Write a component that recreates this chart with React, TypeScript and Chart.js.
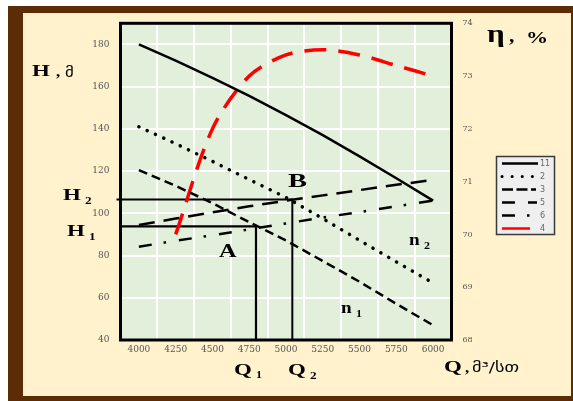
import React, { useEffect, useRef } from "react";
import { Chart, registerables } from "chart.js";

Chart.register(...registerables);

// Flow rate, m³/h
const flowQ = [4000, 4250, 4500, 4750, 5000, 5250, 5500, 5750, 6000];
// Head, m — curve 11 (pump)
const head11 = [180, 172.3, 164.2, 155.6, 146.5, 137, 127, 116.6, 106];
// Head, m — curve 2 (speed n2)
const head2 = [141, 133, 124.6, 116, 107.5, 97.5, 87.2, 77, 67];
// Head, m — curve 3 (speed n1)
const head3 = [120.5, 113, 104.8, 95.8, 87.1, 77.4, 67.6, 57.1, 47];
// Head, m — curve 5 (network through B)
const head5 = [94.5, 97.5, 100.5, 103.3, 106, 108.5, 111, 113.5, 115.8];
// Head, m — curve 6 (network through A)
const head6 = [84.2, 87, 89.6, 92.4, 95.2, 98, 100.6, 103.3, 106];
// Efficiency, % — curve 4
const eff4: (number | null)[] = [null, 70, 72, 73, 73.4, 73.5, 73.4, 73.2, 73.0];

const seriesNames = ["11", "2", "3", "5", "6", "4"];

// Operating points A (Q1, H1) and B (Q2, H2)
const pointA = { q: 4796, h: 93.8 };
const pointB = { q: 5043, h: 106.6 };

const headTicks = [40, 60, 80, 100, 120, 140, 160, 180];
const effTicks = [68, 69, 70, 71, 72, 73, 74];
const qRange = [3875, 6125];
const hRange = [40, 190];
const effRange = [68, 74];

const W = 573;
const H = 401;

type Style = {
  color: string;
  width: number;
  dash: number[];
  cap: CanvasLineCap;
  legendDash: number[];
  legendLen: number;
};

const styles: Style[] = [
  { color: "#000", width: 2.5, dash: [], cap: "butt", legendDash: [], legendLen: 36 },
  { color: "#000", width: 3.5, dash: [0.1, 9], cap: "round", legendDash: [0.1, 10], legendLen: 34 },
  { color: "#000", width: 2.5, dash: [9, 5], cap: "butt", legendDash: [11, 3.5], legendLen: 34 },
  { color: "#000", width: 2.5, dash: [16, 9], cap: "butt", legendDash: [13, 13], legendLen: 35 },
  { color: "#000", width: 2.5, dash: [13, 12, 2.5, 13], cap: "butt", legendDash: [13, 12, 2.5, 13], legendLen: 30 },
  { color: "#ff0000", width: 3.5, dash: [22, 12], cap: "butt", legendDash: [], legendLen: 28 },
];

const seriesValues = [head11, head2, head3, head5, head6, eff4];

const serifBold = (px: number) => `bold ${px}px "Liberation Serif"`;

function put(
  ctx: CanvasRenderingContext2D,
  text: string,
  x: number,
  y: number,
  font: string,
  sx = 1.35,
  color = "#000"
) {
  ctx.save();
  ctx.font = font;
  ctx.textAlign = "left";
  ctx.textBaseline = "alphabetic";
  ctx.fillStyle = color;
  ctx.translate(x, y);
  ctx.scale(sx, 1);
  ctx.fillText(text, 0, 0);
  ctx.restore();
}

const decorPlugin = {
  id: "decor",
  beforeDraw(chart: any) {
    const { ctx, chartArea: a } = chart;
    ctx.save();
    ctx.fillStyle = "#ffffff";
    ctx.fillRect(0, 0, W, H);
    ctx.fillStyle = "#5c2c06";
    ctx.fillRect(8, 6, W - 8, H - 6);
    ctx.fillStyle = "#fff2cc";
    ctx.fillRect(23, 13, 548, 383);
    ctx.fillStyle = "#e2efda";
    ctx.fillRect(a.left, a.top, a.right - a.left, a.bottom - a.top);
    ctx.restore();
  },
  afterDatasetsDraw(chart: any) {
    const { ctx, chartArea: a } = chart;
    ctx.save();
    ctx.strokeStyle = "#000";
    ctx.lineWidth = 3;
    ctx.strokeRect(a.left, a.top, a.right - a.left, a.bottom - a.top);
    ctx.restore();
  },
  afterDraw(chart: any) {
    const ctx: CanvasRenderingContext2D = chart.ctx;

    // axis titles
    put(ctx, "H", 32, 76, serifBold(17));
    put(ctx, ",", 56, 76, serifBold(14), 1.2);
    put(ctx, "მ", 65, 77, '14px "DejaVu Sans"', 1.2);

    put(ctx, "η", 487, 42, serifBold(25), 1.25);
    put(ctx, ",", 509, 42, serifBold(18), 1.2);
    put(ctx, "%", 526, 43, serifBold(17), 1.3);

    put(ctx, "Q", 444, 372, serifBold(17));
    put(ctx, ",", 465, 372, serifBold(14), 1.2);
    put(ctx, "მ³/სთ", 472, 372, '14px "DejaVu Sans"', 1.3);

    // operating point annotations
    put(ctx, "H", 63, 200, serifBold(17));
    put(ctx, "2", 85, 204, serifBold(11), 1.2);
    put(ctx, "H", 67, 236, serifBold(17));
    put(ctx, "1", 89, 240, serifBold(11), 1.2);

    put(ctx, "A", 219, 257, serifBold(18));
    put(ctx, "B", 288, 187, serifBold(19), 1.5);

    put(ctx, "n", 409, 245, serifBold(16), 1.2);
    put(ctx, "2", 424, 249, serifBold(10), 1.2);
    put(ctx, "n", 341, 313, serifBold(16), 1.2);
    put(ctx, "1", 356, 317, serifBold(10), 1.2);

    put(ctx, "Q", 234, 375, serifBold(17));
    put(ctx, "1", 256, 378, serifBold(10), 1.2);
    put(ctx, "Q", 288, 375, serifBold(17));
    put(ctx, "2", 310, 379, serifBold(11), 1.2);

    // legend
    const bx = 496.5;
    const by = 156.5;
    const bw = 58;
    const bh = 78;
    ctx.save();
    ctx.fillStyle = "#efefef";
    ctx.fillRect(bx, by, bw, bh);
    ctx.strokeStyle = "#3a3a3a";
    ctx.lineWidth = 1.5;
    ctx.strokeRect(bx, by, bw, bh);
    seriesNames.forEach((name, i) => {
      const st = styles[i];
      const y = 163.5 + i * 13;
      ctx.save();
      ctx.strokeStyle = st.color;
      ctx.lineWidth = st.cap === "round" ? 3 : 2.5;
      ctx.lineCap = st.cap;
      ctx.setLineDash(st.legendDash);
      ctx.beginPath();
      ctx.moveTo(502, y);
      ctx.lineTo(502 + st.legendLen, y);
      ctx.stroke();
      ctx.restore();
      ctx.fillStyle = "#666";
      ctx.font = '8px "DejaVu Sans"';
      ctx.textBaseline = "middle";
      ctx.textAlign = "left";
      ctx.fillText(name, 540, y);
    });
    ctx.restore();
  },
};

export default function App() {
  const ref = useRef<HTMLCanvasElement | null>(null);

  useEffect(() => {
    if (!ref.current) return;

    const curves = seriesValues.map((vals, i) => {
      const st = styles[i];
      const isEff = i === 5;
      return {
        label: seriesNames[i],
        data: flowQ
          .map((q, k) => ({ x: q, y: vals[k] }))
          .filter((p) => p.y !== null),
        yAxisID: isEff ? "y2" : "y",
        borderColor: st.color,
        backgroundColor: st.color,
        borderWidth: st.width,
        borderDash: st.dash,
        borderCapStyle: st.cap,
        pointRadius: 0,
        tension: isEff ? 0.3 : 0,
        fill: false,
      };
    });

    const guide = (pts: { x: number; y: number }[], w: number) => ({
      label: "",
      data: pts,
      yAxisID: "y",
      borderColor: "#000",
      borderWidth: w,
      pointRadius: 0,
      tension: 0,
      fill: false,
      clip: false as any,
    });

    const datasets = [
      ...curves,
      guide(
        [
          { x: qRange[0] - 27, y: pointB.h },
          { x: pointB.q, y: pointB.h },
          { x: pointB.q, y: hRange[0] },
        ],
        2
      ),
      guide(
        [
          { x: qRange[0], y: pointA.h },
          { x: pointA.q, y: pointA.h },
          { x: pointA.q, y: hRange[0] },
        ],
        2.2
      ),
    ];

    const tickFont = { family: "DejaVu Serif", size: 9 };

    const chart = new Chart(ref.current, {
      type: "line",
      data: { datasets: datasets as any },
      options: {
        animation: false,
        responsive: false,
        devicePixelRatio: 1,
        layout: { padding: { top: 23.3, left: 0, right: 0, bottom: 0 } },
        plugins: {
          legend: { display: false },
          tooltip: { enabled: false },
        },
        scales: {
          x: {
            type: "linear",
            min: qRange[0],
            max: qRange[1],
            afterBuildTicks: (s: any) => {
              s.ticks = flowQ.map((v) => ({ value: v }));
            },
            afterFit: (s: any) => {
              s.height = 61;
            },
            grid: { offset: true, color: "#ffffff", lineWidth: 2, drawTicks: false },
            border: { display: false },
            ticks: {
              callback: (v: any) => String(v),
              font: tickFont,
              color: "#555",
              padding: 4,
              maxRotation: 0,
              autoSkip: false,
            },
          },
          y: {
            position: "left",
            min: hRange[0],
            max: hRange[1],
            afterBuildTicks: (s: any) => {
              s.ticks = headTicks.map((v) => ({ value: v }));
            },
            afterFit: (s: any) => {
              s.width = 120.5;
            },
            grid: { color: "#ffffff", lineWidth: 2, drawTicks: false },
            border: { display: false },
            ticks: {
              callback: (v: any) => String(v),
              font: tickFont,
              color: "#555",
              padding: 11,
            },
          },
          y2: {
            position: "right",
            min: effRange[0],
            max: effRange[1],
            afterBuildTicks: (s: any) => {
              s.ticks = effTicks.map((v) => ({ value: v }));
            },
            afterFit: (s: any) => {
              s.width = 121.5;
            },
            grid: { display: false, drawTicks: false },
            border: { display: false },
            ticks: {
              callback: (v: any) => String(v),
              font: { family: "DejaVu Serif", size: 8 },
              color: "#555",
              padding: 11,
            },
          },
        },
      } as any,
      plugins: [decorPlugin as any],
    });

    return () => chart.destroy();
  }, []);

  return (
    <div style={{ position: "absolute", left: 0, top: 0, width: W, height: H }}>
      <canvas ref={ref} width={W} height={H} style={{ display: "block" }} />
    </div>
  );
}
